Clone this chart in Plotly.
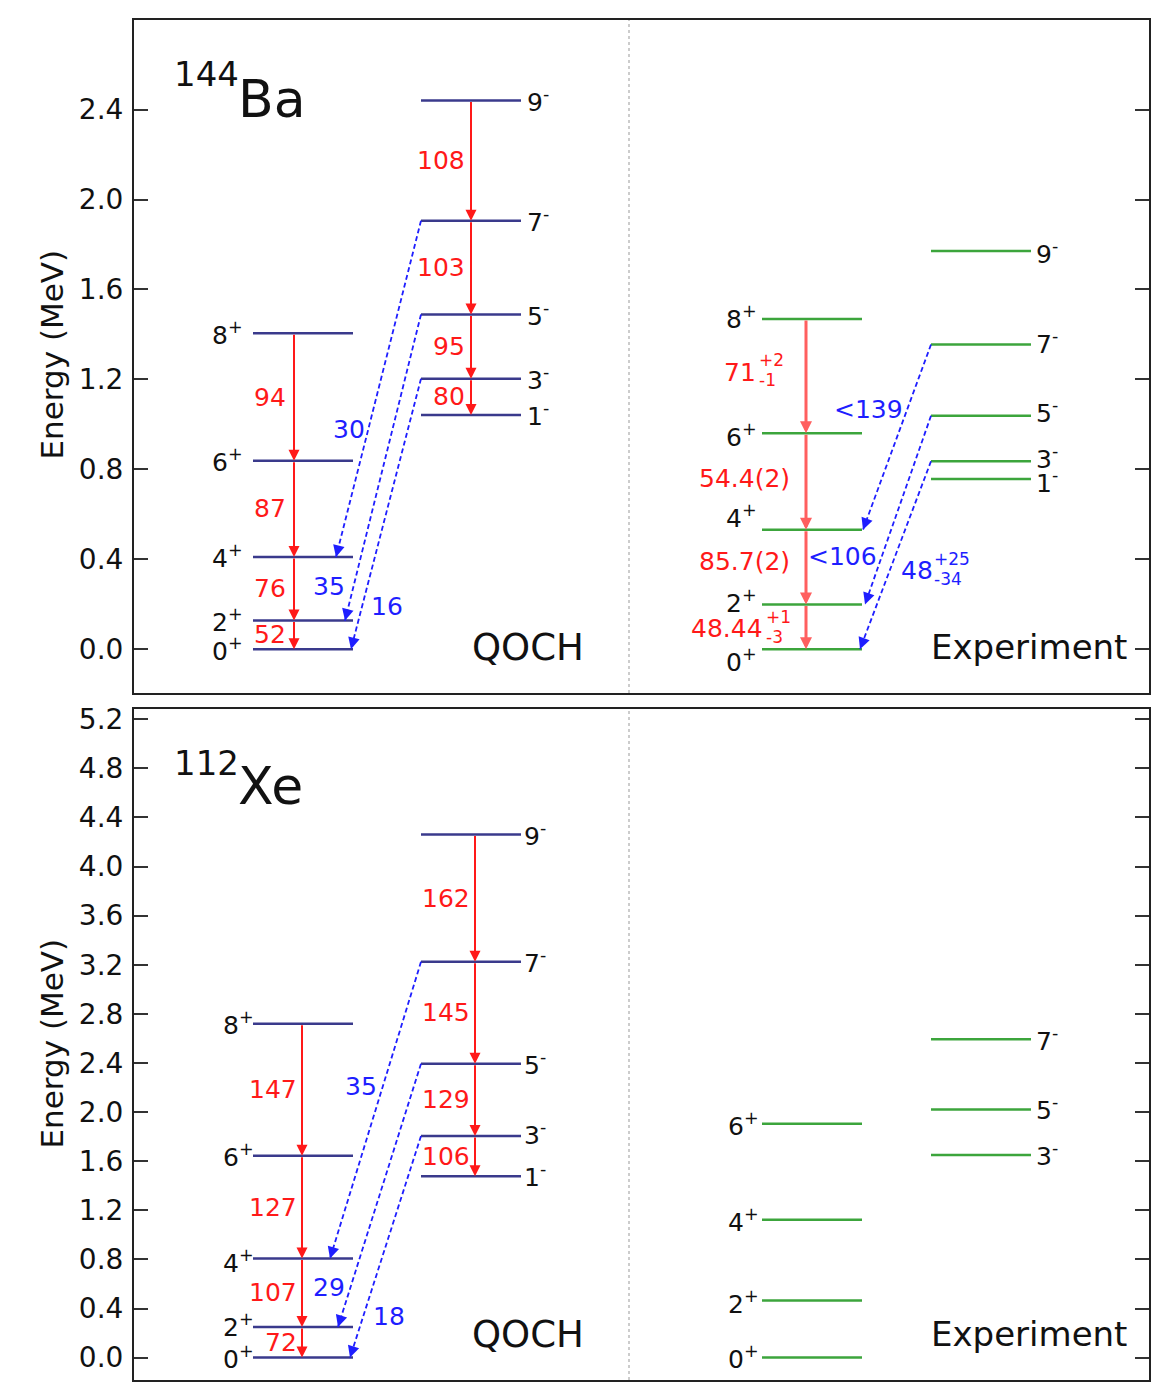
import plotly.graph_objects as go

# ------------------------------------------------------------------ data
pos_spins = [0, 2, 4, 6, 8]
neg_spins = [1, 3, 5, 7, 9]

# 144Ba, QOCH calculation (MeV)
ba_qoch_pos_E = [0.0, 0.127, 0.410, 0.838, 1.405]
ba_qoch_neg_E = [1.042, 1.203, 1.489, 1.906, 2.441]
ba_qoch_e2_pos = ["52", "76", "87", "94"]        # 2+->0+, 4+->2+, 6+->4+, 8+->6+
ba_qoch_e2_neg = ["80", "95", "103", "108"]      # 3-->1-, 5-->3-, 7-->5-, 9-->7-
ba_qoch_e3 = ["16", "35", "30"]                  # 3-->0+, 5-->2+, 7-->4+

# 144Ba, experiment (MeV)
ba_exp_pos_E = [0.0, 0.199, 0.531, 0.961, 1.469]
ba_exp_neg_E = [0.757, 0.836, 1.038, 1.355, 1.771]
ba_exp_e2_pos = ["48.44", "85.7(2)", "54.4(2)", "71"]
ba_exp_e2_pos_up = ["+1", "", "", "+2"]
ba_exp_e2_pos_dn = ["-3", "", "", "-1"]
ba_exp_e3 = ["48", "<106", "<139"]
ba_exp_e3_up = ["+25", "", ""]
ba_exp_e3_dn = ["-34", "", ""]

# 112Xe, QOCH calculation (MeV)
xe_qoch_pos_E = [0.0, 0.250, 0.807, 1.645, 2.719]
xe_qoch_neg_E = [1.478, 1.805, 2.394, 3.224, 4.262]
xe_qoch_e2_pos = ["72", "107", "127", "147"]
xe_qoch_e2_neg = ["106", "129", "145", "162"]
xe_qoch_e3 = ["18", "29", "35"]

# 112Xe, experiment (MeV)
xe_exp_pos_spins = [0, 2, 4, 6]
xe_exp_pos_E = [0.0, 0.466, 1.123, 1.904]
xe_exp_neg_spins = [3, 5, 7]
xe_exp_neg_E = [1.650, 2.021, 2.594]

ba_yticks = [0.0, 0.4, 0.8, 1.2, 1.6, 2.0, 2.4]
xe_yticks = [0.0, 0.4, 0.8, 1.2, 1.6, 2.0, 2.4, 2.8, 3.2, 3.6, 4.0, 4.4, 4.8, 5.2]

# ------------------------------------------------------------------ style / geometry
W, H = 1153, 1383
FONT = "DejaVu Sans"
TXT = "#111111"
NAVY = "rgb(58,58,140)"
GREEN = "rgb(60,165,60)"
RED = "rgb(255,25,25)"
RED_EXP = "rgb(255,95,95)"
BLUE = "rgb(30,30,255)"

FR_L, FR_R = 134, 1149
QOCH_POS = (253, 353)
QOCH_NEG = (421, 521)
EXP_POS = (762, 862)
EXP_NEG = (931, 1031)
DIVIDER = 629

panels = {
    "ba": dict(top=14, bot=690, ymin=-0.195, ymax=2.799, xa="x", ya="y"),
    "xe": dict(top=706, bot=1380, ymin=-0.1825, ymax=5.284, xa="x2", ya="y2"),
}
for p in panels.values():
    p["ppm"] = (p["bot"] - p["top"]) / (p["ymax"] - p["ymin"])

CW = {".": 0.318, "(": 0.39, ")": 0.39, "<": 0.838, "+": 0.838, "-": 0.361}
LAB = 25   # level / transition label size


def text_w(s, size):
    return sum(CW.get(c, 0.636) for c in s) * size


fig = go.Figure()
ann = []
shapes = []


def paper(xpx, ypx):
    return xpx / W, 1 - ypx / H


def add_levels(p, band, E, color):
    xs, ys = [], []
    for e in E:
        xs += [band[0], band[1], None]
        ys += [e, e, None]
    fig.add_trace(go.Scatter(x=xs, y=ys, mode="lines", line=dict(color=color, width=2.5),
                             xaxis=p["xa"], yaxis=p["ya"], hoverinfo="skip", showlegend=False))


def add_level_labels(p, spins, E, sign, x, anchor, shifts=None, size=LAB):
    for i, (s, e) in enumerate(zip(spins, E)):
        ann.append(dict(x=x, y=e, xref=p["xa"], yref=p["ya"], xanchor=anchor, yanchor="middle",
                        text=f"{s}<sup>{sign}</sup>", showarrow=False,
                        yshift=(shifts[i] if shifts else 0),
                        font=dict(family=FONT, size=size, color=TXT)))


def add_cascade(p, E, x, color, width, asize):
    for i in range(len(E) - 1):
        ann.append(dict(x=x, y=E[i], ax=x, ay=E[i + 1], xref=p["xa"], yref=p["ya"],
                        axref=p["xa"], ayref=p["ya"], showarrow=True, text="",
                        arrowhead=2, arrowsize=asize, arrowwidth=width, arrowcolor=color,
                        standoff=0, startstandoff=0))


def add_text(p, x, y, s, anchor, color, size=LAB, yshift=0):
    ann.append(dict(x=x, y=y, xref=p["xa"], yref=p["ya"], xanchor=anchor, yanchor="middle",
                    text=s, showarrow=False, yshift=yshift,
                    font=dict(family=FONT, size=size, color=color)))


def add_updn(p, xleft, y, up, dn, color, yshift=0, size=17):
    if up:
        add_text(p, xleft, y, up, "left", color, size, yshift + 12)
    if dn:
        add_text(p, xleft, y, dn, "left", color, size, yshift - 8)


def add_e2_labels(p, E, labels, x_right, color, shifts=None, ups=None, dns=None, rights=None):
    for i, lab in enumerate(labels):
        ymid = 0.5 * (E[i] + E[i + 1])
        xr = rights[i] if rights else x_right
        ys = shifts[i] if shifts else 0
        add_text(p, xr, ymid, lab, "right", color, LAB, ys)
        if ups:
            add_updn(p, xr - 1, ymid, ups[i], dns[i], color, ys)


def add_e3(p, negE, posE, x_start, x_end_base, tips, labels, ts, sides, gaps, ups=None, dns=None):
    for k in range(3):
        y0, y1 = negE[k + 1], posE[k]
        x0, x1 = x_start, x_end_base + tips[k]
        fig.add_trace(go.Scatter(x=[x0, x1], y=[y0, y1], mode="lines",
                                 line=dict(color=BLUE, width=1.8, dash="5px,3px"),
                                 xaxis=p["xa"], yaxis=p["ya"], hoverinfo="skip", showlegend=False))
        # arrowhead at the lower end: short tail along the line direction (pixels)
        dxp = x0 - x1
        dyp = -(y0 - y1) * p["ppm"]
        L = (dxp ** 2 + dyp ** 2) ** 0.5
        ann.append(dict(x=x1, y=y1, xref=p["xa"], yref=p["ya"], ax=dxp / L * 6, ay=dyp / L * 6,
                        showarrow=True, text="", arrowhead=2, arrowsize=1.3, arrowwidth=1.8,
                        arrowcolor=BLUE, standoff=0))
        t = ts[k]
        yl = y0 + t * (y1 - y0)
        xl = x0 + t * (x1 - x0)
        if sides[k] == "left":
            add_text(p, xl - gaps[k], yl, labels[k], "right", BLUE)
        else:
            add_text(p, xl + gaps[k], yl, labels[k], "left", BLUE)
            if ups and ups[k]:
                xr = xl + gaps[k] + text_w(labels[k], LAB) + 2
                add_updn(p, xr, yl, ups[k], dns[k], BLUE)


# ------------------------------------------------------------------ 144Ba panel
pb = panels["ba"]
add_levels(pb, QOCH_POS, ba_qoch_pos_E, NAVY)
add_levels(pb, QOCH_NEG, ba_qoch_neg_E, NAVY)
add_level_labels(pb, pos_spins, ba_qoch_pos_E, "+", 245, "right")
add_level_labels(pb, neg_spins, ba_qoch_neg_E, "-", 525, "left")
add_cascade(pb, ba_qoch_pos_E, 294, RED, 2, 1.1)
add_cascade(pb, ba_qoch_neg_E, 471, RED, 2, 1.1)
add_e2_labels(pb, ba_qoch_pos_E, ba_qoch_e2_pos, 288, RED)
add_e2_labels(pb, ba_qoch_neg_E, ba_qoch_e2_neg, 467, RED)
add_e3(pb, ba_qoch_neg_E, ba_qoch_pos_E, QOCH_NEG[0], QOCH_POS[1], [-2, -8, -17],
       ba_qoch_e3, [0.843, 0.889, 0.62], ["right", "left", "left"], [7, 6, 1])

add_levels(pb, EXP_POS, ba_exp_pos_E, GREEN)
add_levels(pb, EXP_NEG, ba_exp_neg_E, GREEN)
add_level_labels(pb, pos_spins, ba_exp_pos_E, "+", 759, "right", [-11, 3, 13, -2, 1])
add_level_labels(pb, neg_spins, ba_exp_neg_E, "-", 1034, "left", [-3, 4, 4, 2, -1])
add_cascade(pb, ba_exp_pos_E, 806, RED_EXP, 3, 0.8)
add_e2_labels(pb, ba_exp_pos_E, ba_exp_e2_pos, None, RED, [-2, 6, 3, 4],
              ba_exp_e2_pos_up, ba_exp_e2_pos_dn, [765, 792, 792, 758])
add_e3(pb, ba_exp_neg_E, ba_exp_pos_E, EXP_NEG[0], EXP_POS[1], [-2, 3, 1],
       ba_exp_e3, [0.582, 0.746, 0.35], ["right", "left", "left"], [9, 3, 2],
       ba_exp_e3_up, ba_exp_e3_dn)

# ------------------------------------------------------------------ 112Xe panel
px = panels["xe"]
add_levels(px, QOCH_POS, xe_qoch_pos_E, NAVY)
add_levels(px, QOCH_NEG, xe_qoch_neg_E, NAVY)
add_level_labels(px, pos_spins, xe_qoch_pos_E, "+", 256, "right", [0, 1, -3, 0, 0])
add_level_labels(px, neg_spins, xe_qoch_neg_E, "-", 522, "left", [1, 3, 0, 0, 0])
add_cascade(px, xe_qoch_pos_E, 302, RED, 2, 1.1)
add_cascade(px, xe_qoch_neg_E, 475, RED, 2, 1.1)
add_e2_labels(px, xe_qoch_pos_E, xe_qoch_e2_pos, 299, RED)
add_e2_labels(px, xe_qoch_neg_E, xe_qoch_e2_neg, 472, RED)
add_e3(px, xe_qoch_neg_E, xe_qoch_pos_E, QOCH_NEG[0], QOCH_POS[1], [-3, -15, -23],
       xe_qoch_e3, [0.814, 0.85, 0.42], ["right", "left", "left"], [8, 3, 4])

add_levels(px, EXP_POS, xe_exp_pos_E, GREEN)
add_levels(px, EXP_NEG, xe_exp_neg_E, GREEN)
add_level_labels(px, xe_exp_pos_spins, xe_exp_pos_E, "+", 761, "right", [0, -2, -1, -1])
add_level_labels(px, xe_exp_neg_spins, xe_exp_neg_E, "-", 1034, "left", [1, 1, 0])

# ------------------------------------------------------------------ panel texts
for key, nuc_a, nuc_s, y_a, y_s in [("ba", "144", "Ba", 68, 93), ("xe", "112", "Xe", 760, 783)]:
    x0, y0 = paper(172, y_a)
    ann.append(dict(x=x0, y=y0, xref="paper", yref="paper", xanchor="left", yanchor="middle",
                    text=nuc_a, showarrow=False, font=dict(family=FONT, size=34, color=TXT)))
    x1, y1 = paper(236, y_s)
    ann.append(dict(x=x1, y=y1, xref="paper", yref="paper", xanchor="left", yanchor="middle",
                    text=nuc_s, showarrow=False, font=dict(family=FONT, size=52, color=TXT)))

for yc, qy in [(350, 644), (1042, 1334)]:
    xt, yt = paper(52, yc)
    ann.append(dict(x=xt, y=yt, xref="paper", yref="paper", xanchor="center", yanchor="middle",
                    text="Energy (MeV)", textangle=-90, showarrow=False,
                    font=dict(family=FONT, size=31, color=TXT)))
    xq, yq = paper(528, qy)
    ann.append(dict(x=xq, y=yq, xref="paper", yref="paper", xanchor="center", yanchor="middle",
                    text="QOCH", showarrow=False, font=dict(family=FONT, size=37, color=TXT)))
    xe_, ye_ = paper(1029, qy)
    ann.append(dict(x=xe_, y=ye_, xref="paper", yref="paper", xanchor="center", yanchor="middle",
                    text="Experiment", showarrow=False, font=dict(family=FONT, size=34, color=TXT)))

for p in panels.values():
    shapes.append(dict(type="line", xref=p["xa"], yref=p["ya"] + " domain", x0=DIVIDER, x1=DIVIDER,
                       y0=0, y1=1, line=dict(color="#999999", width=1, dash="dot"), layer="below"))

# ------------------------------------------------------------------ axes
xdom = [FR_L / W, FR_R / W]
common_x = dict(domain=xdom, range=[FR_L, FR_R], showline=True, mirror=True, linecolor="#222",
                linewidth=2, ticks="", showticklabels=False, showgrid=False, zeroline=False,
                fixedrange=True)


def yaxis_cfg(p, ticks, anchor):
    return dict(domain=[1 - p["bot"] / H, 1 - p["top"] / H], range=[p["ymin"], p["ymax"]],
                tickvals=ticks, ticktext=[f"{v:.1f}" for v in ticks], ticks="inside", ticklen=14,
                tickwidth=2, tickcolor="#333", showline=True, mirror="ticks", linecolor="#222",
                linewidth=2, showgrid=False, zeroline=False, anchor=anchor, fixedrange=True,
                ticklabelstandoff=3, tickfont=dict(family=FONT, size=28, color=TXT))


fig.update_layout(
    width=W, height=H, margin=dict(l=0, r=0, t=0, b=0),
    paper_bgcolor="white", plot_bgcolor="white", showlegend=False,
    font=dict(family=FONT, color=TXT),
    xaxis=dict(common_x, anchor="y"),
    xaxis2=dict(common_x, anchor="y2"),
    yaxis=yaxis_cfg(panels["ba"], ba_yticks, "x"),
    yaxis2=yaxis_cfg(panels["xe"], xe_yticks, "x2"),
    annotations=ann, shapes=shapes,
)

fig.write_html(
    "out.html",
    config={"displayModeBar": False, "staticPlot": True},
    post_script="document.body.style.margin='0';document.body.style.padding='0';"
                "document.documentElement.style.overflow='hidden';",
)
